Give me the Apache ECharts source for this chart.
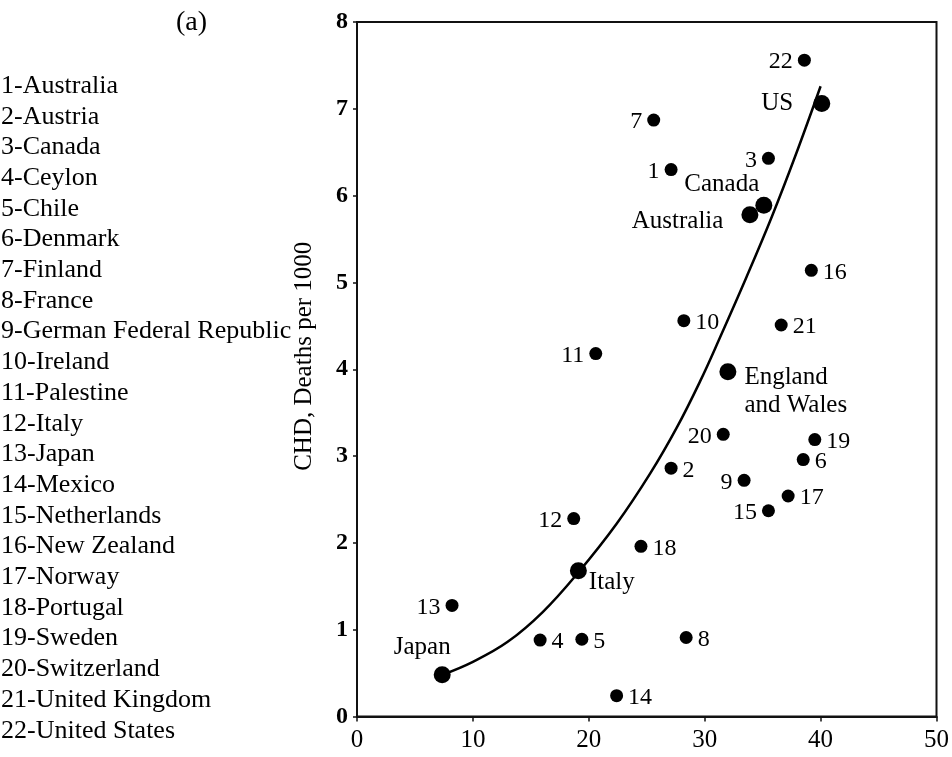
<!DOCTYPE html>
<html>
<head>
<meta charset="utf-8">
<script src="https://cdn.jsdelivr.net/npm/echarts@6/dist/echarts.min.js"></script>
<style>
  html, body { margin: 0; padding: 0; background: #fff; }
  #chart { width: 952px; height: 757px; }
</style>
</head>
<body>
<div id="chart"></div>
<script>
const countries = ['Australia', 'Austria', 'Canada', 'Ceylon', 'Chile', 'Denmark', 'Finland', 'France',
  'German Federal Republic', 'Ireland', 'Palestine', 'Italy', 'Japan', 'Mexico', 'Netherlands',
  'New Zealand', 'Norway', 'Portugal', 'Sweden', 'Switzerland', 'United Kingdom', 'United States'];

// fat calories (%) and CHD deaths per 1000, numbered countries
const fatX = [27.1, 27.1, 35.5, 15.8, 19.4, 38.5, 25.6, 28.4, 33.4, 28.2, 20.6,
  18.7, 8.2, 22.4, 35.5, 39.2, 37.2, 24.5, 39.5, 31.6, 36.6, 38.6];
const chdY = [6.30, 2.86, 6.43, 0.88, 0.89, 2.96, 6.87, 0.91, 2.72, 4.56, 4.18,
  2.28, 1.28, 0.24, 2.37, 5.14, 2.54, 1.96, 3.19, 3.25, 4.51, 7.56];
const labelSide = ['left', 'right', 'left', 'right', 'right', 'right', 'left', 'right', 'left', 'right', 'left',
  'left', 'left', 'right', 'left', 'right', 'right', 'right', 'right', 'left', 'right', 'left'];

// six countries study
const namedCountries = ['Japan', 'Italy', 'England\nand Wales', 'Australia', 'Canada', 'US'];
const namedX = [7.35, 19.1, 32.0, 33.9, 35.1, 40.1];
const namedY = [0.48, 1.68, 3.97, 5.78, 5.89, 7.06];

// fitted curve
const curveX = [7.35, 10, 13, 16, 19.1, 22.4, 25.3, 27.6, 29.6, 31.3, 33.6, 35.8, 37.8, 40.0];
const curveY = [0.48, 0.63, 0.86, 1.20, 1.66, 2.22, 2.80, 3.33, 3.86, 4.36, 5.06, 5.76, 6.45, 7.26];

const xTicks = [0, 10, 20, 30, 40, 50];
const yTicks = [0, 1, 2, 3, 4, 5, 6, 7, 8];

const FONT = 'Liberation Serif';
const INK = '#000';

const namedLabelStyle = [
  { position: 'top', offset: [-20, 0] },
  { position: 'right', offset: [-4, 12] },
  { position: 'right', offset: [2, 20], align: 'left', lineHeight: 28 },
  { position: 'left', offset: [-12, 7] },
  { position: 'top', offset: [-42, 6] },
  { position: 'left', offset: [-14, 0] }
];

const chart = echarts.init(document.getElementById('chart'));

const listGraphics = countries.map((c, i) => ({
  type: 'text',
  left: 1,
  top: 87 + i * 30.7 - 14,
  style: { text: (i + 1) + '-' + c, font: '26px "' + FONT + '"', fill: INK }
}));
listGraphics.push({
  type: 'text',
  left: 176,
  top: 9,
  style: { text: '(a)', font: '28px "' + FONT + '"', fill: INK }
});

chart.setOption({
  animation: false,
  backgroundColor: '#fff',
  textStyle: { fontFamily: FONT },
  graphic: listGraphics,
  grid: {
    left: 357, right: 14, top: 22, bottom: 40.5,
    show: true, borderColor: '#111', borderWidth: 2
  },
  xAxis: {
    type: 'value',
    min: xTicks[0], max: xTicks[xTicks.length - 1], interval: 10,
    axisLine: { lineStyle: { color: '#111', width: 2 } },
    axisTick: { show: true, length: 5, lineStyle: { color: '#111', width: 1.5 } },
    axisLabel: { color: INK, fontSize: 25, fontFamily: FONT, margin: 11 },
    splitLine: { show: false }
  },
  yAxis: {
    type: 'value',
    min: yTicks[0], max: yTicks[yTicks.length - 1], interval: 1,
    name: 'CHD, Deaths per 1000',
    nameLocation: 'middle',
    nameGap: 40,
    nameTextStyle: { color: INK, fontSize: 25, fontFamily: FONT, padding: [0, 0, 0, 26] },
    axisLine: { lineStyle: { color: '#111', width: 2 } },
    axisTick: { show: true, length: 4, lineStyle: { color: '#111', width: 1.5 } },
    axisLabel: { color: INK, fontSize: 24, fontWeight: 'bold', fontFamily: FONT, margin: 9 },
    splitLine: { show: false }
  },
  series: [
    {
      type: 'line',
      data: curveX.map((x, i) => [x, curveY[i]]),
      smooth: 0.4,
      showSymbol: false,
      lineStyle: { color: INK, width: 2.5 },
      z: 1
    },
    {
      type: 'scatter',
      symbolSize: 13,
      itemStyle: { color: INK, opacity: 1 },
      data: fatX.map((x, i) => ({
        value: [x, chdY[i]],
        label: { position: labelSide[i] }
      })),
      label: {
        show: true,
        formatter: (p) => String(p.dataIndex + 1),
        color: INK, fontSize: 24, fontFamily: FONT,
        distance: 5, offset: [0, 2]
      },
      z: 3
    },
    {
      type: 'scatter',
      symbolSize: 17,
      itemStyle: { color: INK, opacity: 1 },
      data: namedX.map((x, i) => ({
        value: [x, namedY[i]],
        name: namedCountries[i],
        label: namedLabelStyle[i]
      })),
      label: {
        show: true,
        formatter: '{b}',
        color: INK, fontSize: 25, fontFamily: FONT,
        distance: 6
      },
      z: 3
    }
  ]
});
</script>
</body>
</html>
